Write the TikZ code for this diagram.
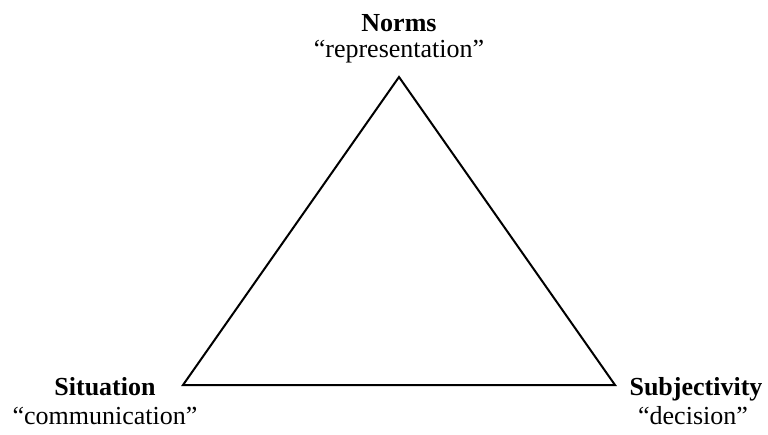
\documentclass[tikz,border=0pt]{standalone}
\usepackage{fontspec}
\setmainfont{Liberation Serif}
\usepackage{tikz}
\usetikzlibrary{calc,positioning}

\tikzset{
  vertexlabel/.style={anchor=base, inner sep=0pt, font=\fontsize{19.5}{23}\selectfont\bfseries},
  quotelabel/.style={anchor=base, inner sep=0pt, font=\fontsize{19.5}{23}\selectfont}
}

\begin{document}
\begin{tikzpicture}[x=0.75pt, y=-0.75pt]
    \useasboundingbox (0,0) rectangle (768,435);
    % corners of the triangle
    \coordinate (apex) at (399,77);
    \coordinate (lft) at (183,385);
    \coordinate (rgt) at (615,385);
    \draw[line width=1.5pt, line join=miter] (apex) -- (lft) -- (rgt) -- cycle;
    % labels
    \node[vertexlabel] (norms) at (399,32) {Norms};
    \node[quotelabel] (normsq) at (399,58) {``representation''};
    \node[vertexlabel] (situation) at (105,395) {Situation};
    \node[quotelabel] (situationq) at (105,424) {``communication''};
    \node[vertexlabel] (subjectivity) at (696,395) {Subjectivity};
    \node[quotelabel] (subjectivityq) at (693,424) {``decision''};
\end{tikzpicture}
\end{document}
